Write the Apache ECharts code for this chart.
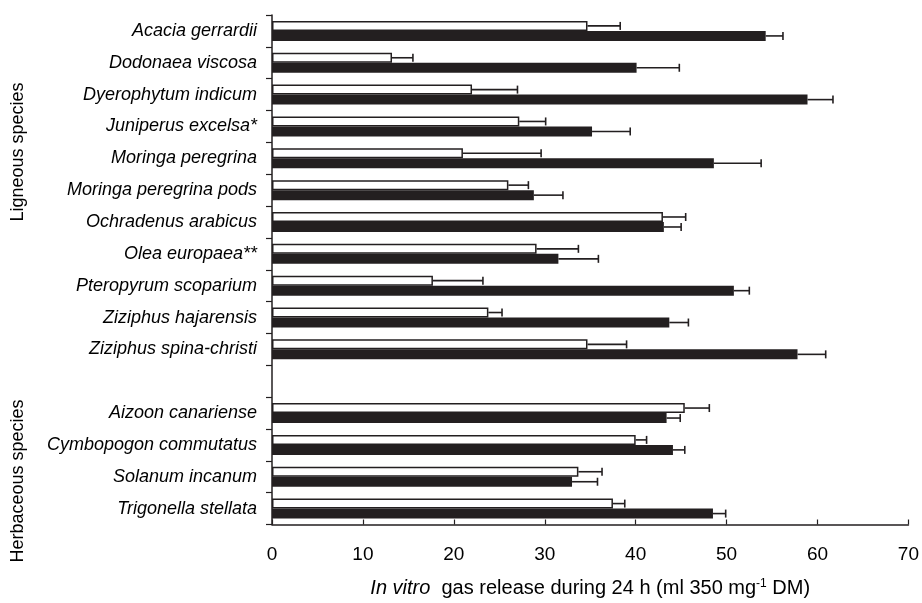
<!DOCTYPE html>
<html>
<head>
<meta charset="utf-8">
<script src="https://cdn.jsdelivr.net/npm/echarts@6/dist/echarts.min.js"></script>
<style>
  html, body { margin: 0; padding: 0; background: #fff; }
  #chart { width: 922px; height: 603px; }
</style>
</head>
<body>
<div id="chart"></div>
<script>
// species, top to bottom ('' is the gap between the two groups)
var species = [
  "Acacia gerrardii", "Dodonaea viscosa", "Dyerophytum indicum", "Juniperus excelsa*",
  "Moringa peregrina", "Moringa peregrina pods", "Ochradenus arabicus", "Olea europaea**",
  "Pteropyrum scoparium", "Ziziphus hajarensis", "Ziziphus spina-christi", "",
  "Aizoon canariense", "Cymbopogon commutatus", "Solanum incanum", "Trigonella stellata"
];

// white bars and their error
var whiteValues = [34.7, 13.2, 22.0, 27.2, 21.0, 26.0, 43.0, 29.1, 17.7, 23.8, 34.7, null, 45.4, 40.0, 33.7, 37.5];
var whiteErrors = [3.6, 2.3, 5.0, 2.9, 8.6, 2.2, 2.5, 4.6, 5.5, 1.5, 4.3, null, 2.7, 1.2, 2.6, 1.3];

// black bars and their error
var blackValues = [54.3, 40.1, 58.9, 35.2, 48.6, 28.8, 43.1, 31.5, 50.8, 43.7, 57.8, null, 43.4, 44.1, 33.0, 48.5];
var blackErrors = [1.9, 4.7, 2.8, 4.2, 5.2, 3.2, 1.9, 4.4, 1.7, 2.1, 3.1, null, 1.5, 1.3, 2.8, 1.4];

var xTicks = [0, 70, 10]; // min, max, interval

var ink = "#231f20";
var font = "Liberation Sans, Arial, sans-serif";
var barW = 10;

function errorData(values, errors) {
  var out = [];
  values.forEach(function (v, i) {
    if (v != null) out.push([v, i, errors[i]]);
  });
  return out;
}

// horizontal error bar with a cap at the end
function errorSeries(values, errors, shift) {
  return {
    type: "custom",
    z: 5,
    silent: true,
    encode: { x: [0, 2], y: 1 },
    data: errorData(values, errors),
    renderItem: function (params, api) {
      var v = api.value(0);
      var cat = api.value(1);
      var e = api.value(2);
      var p0 = api.coord([v, cat]);
      var p1 = api.coord([v + e, cat]);
      var y = p0[1] + shift;
      var st = { stroke: ink, lineWidth: 1.6 };
      return {
        type: "group",
        children: [
          { type: "line", shape: { x1: p0[0], y1: y, x2: p1[0], y2: y }, style: st },
          { type: "line", shape: { x1: p1[0], y1: y - 4, x2: p1[0], y2: y + 4 }, style: st }
        ]
      };
    }
  };
}

var chart = echarts.init(document.getElementById("chart"));
chart.setOption({
  animation: false,
  backgroundColor: "#fff",
  textStyle: { fontFamily: font, color: "#000" },
  grid: { left: 272, right: 12, top: 15, bottom: 78, containLabel: false },
  xAxis: {
    type: "value",
    min: xTicks[0],
    max: xTicks[1],
    interval: xTicks[2],
    splitLine: { show: false },
    axisLine: { show: true, lineStyle: { color: ink, width: 1.5 } },
    axisTick: { show: true, inside: true, length: 5, lineStyle: { color: ink, width: 1.2 } },
    axisLabel: { fontSize: 19, color: "#000", margin: 21, fontFamily: font },
    name: "{i|In vitro}  gas release during 24 h (ml 350 mg{sup|-1} DM)",
    nameLocation: "middle",
    nameGap: 53,
    nameTextStyle: {
      fontSize: 20,
      color: "#000",
      fontFamily: font,
      rich: {
        i: { fontSize: 20, fontStyle: "italic", color: "#000", fontFamily: font },
        sup: { fontSize: 12, color: "#000", verticalAlign: "top", padding: [0, 0, 9, 0], fontFamily: font }
      }
    }
  },
  yAxis: {
    type: "category",
    inverse: true,
    data: species,
    axisLine: { show: true, lineStyle: { color: ink, width: 1.5 } },
    axisTick: { show: true, length: 6, lineStyle: { color: ink, width: 1.2 } },
    axisLabel: { fontSize: 18, fontStyle: "italic", color: "#000", margin: 15, fontFamily: font },
    splitLine: { show: false }
  },
  graphic: [
    {
      type: "text", rotation: Math.PI / 2, x: 18, y: 152,
      style: { text: "Ligneous species", fontSize: 18, fill: "#000", align: "center", verticalAlign: "middle", fontFamily: font }
    },
    {
      type: "text", rotation: Math.PI / 2, x: 18, y: 481,
      style: { text: "Herbaceous species", fontSize: 18, fill: "#000", align: "center", verticalAlign: "middle", fontFamily: font }
    }
  ],
  series: [
    {
      name: "white",
      type: "bar",
      barWidth: barW,
      barGap: "0%",
      data: whiteValues,
      itemStyle: { color: "#fff", borderColor: ink, borderWidth: 1.5 }
    },
    {
      name: "black",
      type: "bar",
      barWidth: barW,
      barGap: "0%",
      data: blackValues,
      itemStyle: { color: ink, borderWidth: 0 }
    },
    errorSeries(whiteValues, whiteErrors, -barW / 2),
    errorSeries(blackValues, blackErrors, barW / 2)
  ]
});
</script>
</body>
</html>
